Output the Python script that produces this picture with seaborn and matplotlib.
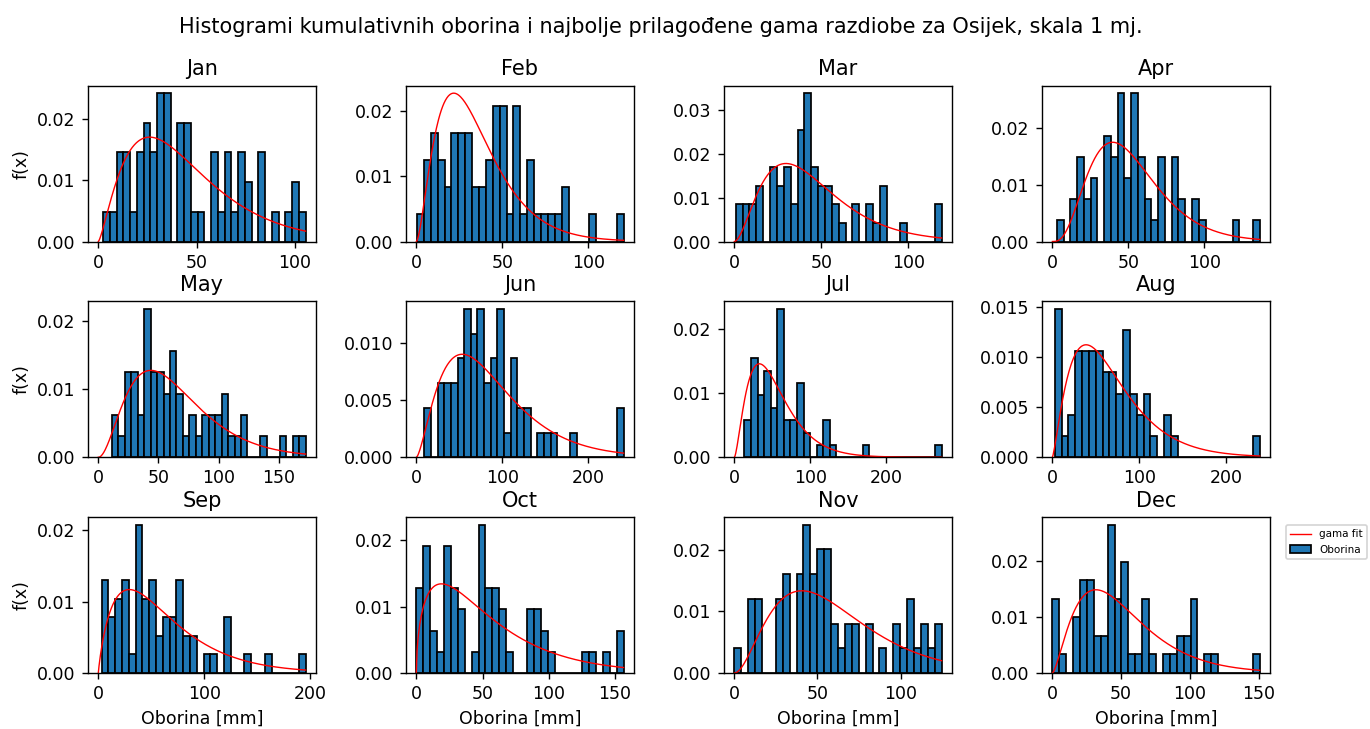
import math
import numpy as np
import matplotlib
matplotlib.use('Agg')
import matplotlib.pyplot as plt
import seaborn as sns
from matplotlib.lines import Line2D
from matplotlib.patches import Patch

months = ['Jan', 'Feb', 'Mar', 'Apr', 'May', 'Jun',
          'Jul', 'Aug', 'Sep', 'Oct', 'Nov', 'Dec']

# histogram range per month [mm] (30 bins each)
bin_lo = [2.5, 0.4, 0.8, 2.9, 11.3, 9.3, 13.2, 2.7, 3.1, 0.0, 0.0, 0.0]
bin_hi = [105.4, 120.6, 119.2, 136.5, 172.4, 240.8, 273.1, 238.4, 195.6, 156.5, 124.7, 150.7]

# counts per bin
cnt_jan = [1, 1, 3, 3, 1, 3, 4, 3, 5, 5, 0, 4, 4, 1, 1, 0, 3, 1, 3, 1, 3, 2, 0, 3, 0, 1, 0, 1, 2, 1]
cnt_feb = [1, 3, 4, 3, 2, 4, 4, 4, 2, 2, 3, 5, 5, 1, 5, 1, 3, 1, 1, 1, 1, 2, 0, 0, 0, 1, 0, 0, 0, 1]
cnt_mar = [2, 2, 2, 3, 0, 4, 3, 4, 2, 6, 8, 4, 3, 3, 2, 1, 0, 2, 0, 2, 1, 3, 0, 0, 1, 0, 0, 0, 0, 2]
cnt_apr = [1, 0, 2, 4, 2, 3, 0, 5, 4, 7, 3, 7, 4, 2, 1, 4, 0, 4, 2, 0, 2, 1, 0, 0, 0, 0, 1, 0, 0, 1]
cnt_may = [2, 1, 4, 4, 2, 7, 4, 4, 3, 5, 3, 1, 2, 1, 2, 2, 2, 3, 1, 1, 2, 0, 0, 1, 0, 0, 1, 0, 1, 1]
cnt_jun = [2, 0, 3, 3, 3, 4, 6, 5, 6, 3, 4, 6, 1, 4, 2, 2, 0, 1, 1, 1, 0, 0, 1, 0, 0, 0, 0, 0, 0, 2]
cnt_jul = [3, 8, 5, 7, 4, 12, 3, 3, 6, 2, 0, 1, 3, 1, 0, 0, 0, 0, 1, 0, 0, 0, 0, 0, 0, 0, 0, 0, 0, 1]
cnt_aug = [7, 1, 2, 5, 5, 5, 5, 4, 4, 3, 6, 3, 2, 3, 1, 0, 2, 1, 0, 0, 0, 0, 0, 0, 0, 0, 0, 0, 0, 1]
cnt_sep = [5, 3, 4, 5, 1, 8, 4, 5, 2, 3, 3, 5, 2, 2, 0, 1, 1, 0, 3, 0, 0, 1, 0, 0, 1, 0, 0, 0, 0, 1]
cnt_oct = [4, 6, 2, 1, 6, 4, 3, 0, 1, 7, 4, 4, 3, 1, 0, 0, 3, 3, 2, 1, 0, 0, 0, 0, 1, 1, 0, 1, 0, 2]
cnt_nov = [1, 0, 3, 3, 0, 0, 3, 4, 0, 4, 6, 4, 5, 5, 2, 1, 2, 2, 0, 2, 0, 1, 0, 2, 1, 3, 1, 2, 1, 2]
cnt_dec = [4, 1, 0, 3, 5, 5, 2, 2, 8, 4, 6, 1, 1, 4, 1, 0, 1, 1, 2, 2, 4, 0, 1, 1, 0, 0, 0, 0, 0, 1]
counts = [cnt_jan, cnt_feb, cnt_mar, cnt_apr, cnt_may, cnt_jun,
          cnt_jul, cnt_aug, cnt_sep, cnt_oct, cnt_nov, cnt_dec]

# fitted gamma parameters (shape, scale), loc = 0
gamma_shape = [2.4, 2.7, 2.9, 4.2, 3.1, 2.6, 2.6, 2.35, 1.88, 1.54, 3.0, 2.55]
gamma_scale = [18.6, 12.8, 15.6, 12.4, 20.8, 33.3, 20.6, 28.7, 33.2, 35.0, 20.3, 20.4]


def gamma_pdf(x, a, s):
    z = x / s
    out = np.zeros_like(x)
    m = z > 0
    out[m] = np.exp((a - 1) * np.log(z[m]) - z[m] - math.lgamma(a)) / s
    return out


fig, axes = plt.subplots(3, 4, figsize=(10.96, 5.832), dpi=125)
fig.subplots_adjust(left=0.0642, right=0.927, top=0.8824, bottom=0.0768,
                    wspace=0.395, hspace=0.385)

for i, ax in enumerate(axes.flat):
    nb = len(counts[i])
    edges = np.linspace(bin_lo[i], bin_hi[i], nb + 1)
    centers = (edges[:-1] + edges[1:]) / 2
    sns.histplot(x=centers, weights=np.array(counts[i], dtype=float), bins=nb,
                 binrange=(bin_lo[i], bin_hi[i]), stat='density',
                 color='#1f77b4', edgecolor='black', linewidth=1.0, alpha=1, ax=ax)
    xs = np.linspace(0, bin_hi[i], 300)
    sns.lineplot(x=xs, y=gamma_pdf(xs, gamma_shape[i], gamma_scale[i]),
                 color='red', linewidth=0.8, ax=ax)
    ax.set_title(months[i])
    ax.set_ylabel('f(x)' if i % 4 == 0 else '')
    ax.set_xlabel('Oborina [mm]' if i >= 8 else '')

fig.suptitle('Histogrami kumulativnih oborina i najbolje prilagođene gama razdiobe za Osijek, skala 1 mj.',
             x=0.482, y=0.976)

handles = [Line2D([0], [0], color='red', linewidth=0.8),
           Patch(facecolor='#1f77b4', edgecolor='black')]
fig.legend(handles, ['gama fit', 'Oborina'], loc='upper left',
           bbox_to_anchor=(0.935, 0.2867), fontsize=6)

fig.savefig('out.png', dpi=125)
